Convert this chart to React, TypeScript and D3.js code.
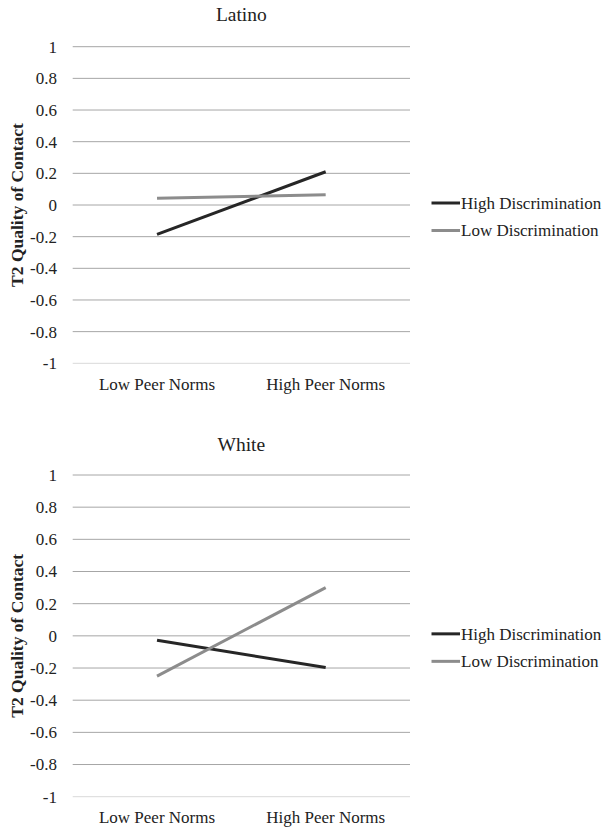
import React from 'react';
import * as d3 from 'd3';

const categories = ['Low Peer Norms', 'High Peer Norms'];
const yTicks = [1, 0.8, 0.6, 0.4, 0.2, 0, -0.2, -0.4, -0.6, -0.8, -1];
const seriesNames = ['High Discrimination', 'Low Discrimination'];
const seriesColors = ['#262626', '#8c8c8c'];

const latinoHigh = [-0.185, 0.21];
const latinoLow = [0.042, 0.065];
const whiteHigh = [-0.027, -0.197];
const whiteLow = [-0.25, 0.3];

const font = '"Liberation Serif", "Times New Roman", serif';

type PanelProps = {
  title: string;
  series: number[][];
  top: number;
  yTop: number;
  yBottom: number;
  labelY: number;
};

function Panel({ title, series, top, yTop, yBottom, labelY }: PanelProps) {
  const left = 72.7;
  const right = 410;
  const x = d3.scaleBand().domain(categories).range([left, right]);
  const y = d3.scaleLinear().domain([-1, 1]).range([yBottom, yTop]);
  const line = d3
    .line<number>()
    .x((_, i) => (x(categories[i]) as number) + x.bandwidth() / 2)
    .y(d => y(d));
  const mid = (yTop + yBottom) / 2;

  return (
    <g>
      <text x={(left + right) / 2} y={top} textAnchor="middle" fontSize={19.5} fontFamily={font} fill="#222">
        {title}
      </text>
      {yTicks.map(t => (
        <g key={t}>
          <line x1={left} x2={right} y1={y(t)} y2={y(t)} stroke={t === -1 ? '#d9d9d9' : '#a6a6a6'} strokeWidth={1} />
          <text x={57} y={y(t)} dy="0.35em" textAnchor="end" fontSize={17} fontFamily={font} fill="#222">
            {t}
          </text>
        </g>
      ))}
      {categories.map(c => (
        <text key={c} x={(x(c) as number) + x.bandwidth() / 2} y={labelY} textAnchor="middle" fontSize={17} fontFamily={font} fill="#222">
          {c}
        </text>
      ))}
      <text
        transform={`translate(23,${mid}) rotate(-90)`}
        textAnchor="middle"
        fontSize={17.5}
        fontWeight="bold"
        fontFamily={font}
        fill="#222"
      >
        T2 Quality of Contact
      </text>
      {series.map((s, i) => (
        <path key={i} d={line(s) || ''} fill="none" stroke={seriesColors[i]} strokeWidth={3} />
      ))}
      {seriesNames.map((n, i) => {
        const ly = mid - 2 + i * 27.5;
        return (
          <g key={n}>
            <line x1={431.5} x2={460} y1={ly} y2={ly} stroke={seriesColors[i]} strokeWidth={3} />
            <text x={461} y={ly} dy="0.35em" fontSize={17} fontFamily={font} fill="#222">
              {n}
            </text>
          </g>
        );
      })}
    </g>
  );
}

export default function App() {
  return (
    <svg width={609} height={828} style={{ position: 'absolute', left: 0, top: 0, background: '#fff' }}>
      <rect width={609} height={828} fill="#fff" />
      <Panel title="Latino" series={[latinoHigh, latinoLow]} top={21} yTop={46.7} yBottom={363.3} labelY={390} />
      <Panel title="White" series={[whiteHigh, whiteLow]} top={451} yTop={475} yBottom={796.7} labelY={823} />
    </svg>
  );
}
